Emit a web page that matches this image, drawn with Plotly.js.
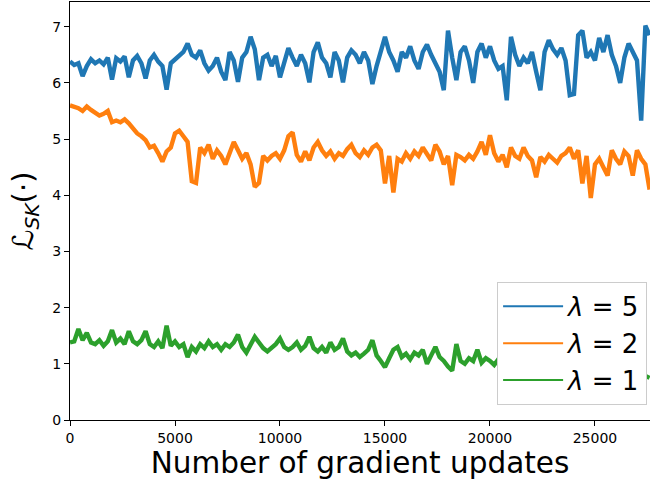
<!DOCTYPE html>
<html>
<head>
<meta charset="utf-8">
<script src="https://cdn.plot.ly/plotly-3.0.1.min.js"></script>
<style>html,body{margin:0;padding:0;background:#fff;}#chart{width:650px;height:484px;}</style>
</head>
<body>
<div id="chart"></div>
<script>
const STEP = 200;
const seriesNames = ["<i>λ</i> = 5", "<i>λ</i> = 2", "<i>λ</i> = 1"];
const seriesColors = ["#1f77b4", "#ff7f0e", "#2ca02c"];

const lambda5 = [
6.38,6.32,6.35,6.12,6.30,6.42,6.35,6.40,6.33,6.45,
6.06,6.44,6.38,6.47,6.10,6.40,6.48,6.35,6.08,6.40,
6.50,6.38,6.30,5.88,6.35,6.42,6.48,6.55,6.70,6.50,
6.45,6.58,6.35,6.22,6.30,6.45,6.20,6.05,6.55,6.40,
6.02,6.45,6.55,6.82,6.60,6.05,6.45,6.50,6.30,6.48,
6.10,6.40,6.62,6.45,6.30,6.50,6.35,6.01,6.55,6.72,
6.45,6.35,6.10,6.55,6.40,6.01,6.45,6.58,6.50,6.35,
6.55,6.40,5.98,6.30,6.60,6.82,6.55,6.40,6.20,6.55,
6.45,6.65,6.40,6.25,6.55,6.68,6.50,6.35,6.20,5.87,
6.93,6.45,6.05,6.55,6.65,6.40,6.00,6.55,6.70,6.45,
6.65,6.40,6.25,6.30,5.69,6.82,6.50,6.30,6.45,6.35,
6.55,6.20,5.87,6.55,6.76,6.60,6.50,6.62,6.40,5.78,
5.80,6.85,6.93,6.45,6.55,6.40,6.80,6.55,6.85,6.50,
6.30,6.00,6.45,6.70,6.55,6.40,5.33,7.02,6.85
];

const lambda2 = [
5.60,5.58,5.55,5.50,5.58,5.52,5.48,5.42,5.45,5.50,
5.30,5.33,5.30,5.35,5.28,5.20,5.10,5.05,4.98,4.85,
4.88,4.75,4.60,4.78,4.85,5.10,5.15,5.05,4.95,4.25,
4.22,4.85,4.75,4.90,4.65,4.80,4.70,4.55,4.75,4.95,
4.80,4.65,4.75,4.55,4.15,4.22,4.70,4.62,4.70,4.75,
4.65,4.80,5.05,5.12,4.72,4.60,4.78,4.62,4.85,4.95,
4.80,4.70,4.78,4.65,4.75,4.70,4.82,4.90,4.75,4.68,
4.80,4.72,4.85,4.90,4.80,4.21,4.70,4.05,4.65,4.60,
4.75,4.65,4.78,4.70,4.85,4.75,4.62,4.90,4.78,4.55,
4.70,4.18,4.72,4.68,4.62,4.72,4.65,4.78,4.95,4.72,
5.07,4.75,4.60,4.72,4.50,4.85,4.70,4.65,4.85,4.70,
4.62,4.32,4.68,4.60,4.72,4.65,4.58,4.70,4.75,4.85,
4.65,4.80,4.21,4.70,3.95,4.55,4.65,4.50,4.35,4.80,
4.65,4.55,4.78,4.70,4.35,4.80,4.65,4.55,4.10
];

const lambda1 = [
1.38,1.40,1.62,1.42,1.55,1.38,1.35,1.42,1.32,1.40,
1.60,1.38,1.45,1.35,1.58,1.40,1.35,1.42,1.58,1.35,
1.30,1.40,1.28,1.68,1.32,1.40,1.30,1.35,1.12,1.30,
1.22,1.35,1.28,1.40,1.30,1.35,1.25,1.35,1.30,1.38,
1.52,1.30,1.20,1.35,1.48,1.38,1.28,1.22,1.28,1.35,
1.45,1.30,1.25,1.30,1.38,1.25,1.32,1.48,1.28,1.22,
1.30,1.20,1.38,1.25,1.30,1.45,1.22,1.15,1.20,1.12,
1.18,1.25,1.42,1.15,1.05,0.94,1.10,1.25,1.30,1.12,
1.18,1.08,1.20,1.15,1.25,1.00,1.15,1.30,1.12,1.05,
0.95,0.88,1.35,1.05,1.00,1.10,1.05,1.25,1.02,1.10,
1.05,0.98,1.08,0.95,1.02,0.92,1.00,0.90,0.95,0.88,
0.98,0.86,0.92,0.85,0.95,0.82,0.90,0.85,0.88,0.80,
0.86,0.82,0.78,0.85,0.80,0.76,0.82,0.78,0.84,0.80,
0.76,0.82,0.78,0.74,0.80,0.76,0.82,0.78,0.75
];

const xTickVals = [0, 5000, 10000, 15000, 20000, 25000];
const xTickText = ["0", "5000", "10000", "15000", "20000", "25000"];
const yTickVals = [0, 1, 2, 3, 4, 5, 6, 7];

const allSeries = [lambda5, lambda2, lambda1];
const dataTraces = allSeries.map((vals, k) => ({
  type: "scatter",
  mode: "lines",
  x: vals.map((_, i) => i * STEP),
  y: vals,
  name: seriesNames[k],
  showlegend: false,
  line: {color: seriesColors[k], width: 4.4},
  hoverinfo: "skip"
}));
// legend-only entries with the thin matplotlib-style legend handle
const legendTraces = seriesNames.map((nm, k) => ({
  type: "scatter",
  mode: "lines",
  x: [null], y: [null],
  name: nm,
  showlegend: true,
  line: {color: seriesColors[k], width: 2},
  hoverinfo: "skip"
}));

const FONT = "DejaVu Sans, sans-serif";
const layout = {
  width: 650, height: 484,
  margin: {l: 70, r: 0, t: 2, b: 64},
  paper_bgcolor: "#fff", plot_bgcolor: "#fff",
  font: {family: FONT, color: "#000"},
  showlegend: true,
  xaxis: {
    range: [0, 27620],
    tickmode: "array", tickvals: xTickVals, ticktext: xTickText,
    ticks: "outside", ticklen: 5, tickwidth: 1, tickcolor: "#000",
    showline: true, linecolor: "#000", linewidth: 1, mirror: true,
    showgrid: false, zeroline: false,
    tickfont: {size: 14, family: FONT},
    title: {text: "Number of gradient updates", font: {size: 29.5, family: FONT}, standoff: 6}
  },
  yaxis: {
    range: [0, 7.44],
    tickmode: "array", tickvals: yTickVals,
    ticks: "outside", ticklen: 5, tickwidth: 1, tickcolor: "#000",
    showline: true, linecolor: "#000", linewidth: 1, mirror: true,
    showgrid: false, zeroline: false,
    tickfont: {size: 14, family: FONT},
    title: {text: "ℒ<sub><i>SK</i></sub>(·)", font: {size: 29, family: FONT}, standoff: 10}
  },
  legend: {
    x: 0.995, xanchor: "right", y: 0.036, yanchor: "bottom",
    bgcolor: "#fff", bordercolor: "#cccccc", borderwidth: 1,
    font: {size: 26, family: FONT},
    itemwidth: 60, tracegroupgap: 0
  }
};

Plotly.newPlot("chart", dataTraces.concat(legendTraces), layout, {displayModeBar: false, staticPlot: true});
</script>
</body>
</html>
